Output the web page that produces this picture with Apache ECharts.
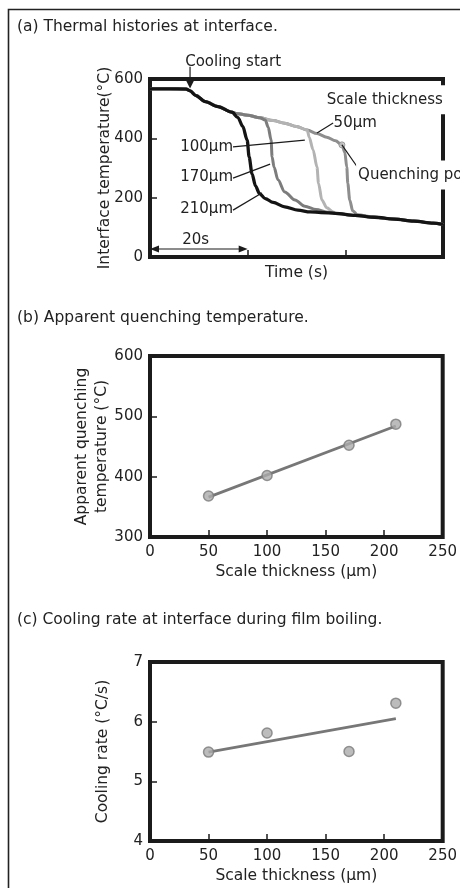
<!DOCTYPE html>
<html>
<head>
<meta charset="utf-8">
<script src="https://cdn.jsdelivr.net/npm/echarts@6/dist/echarts.min.js"></script>
<style>
  html, body { margin: 0; padding: 0; background: #fff; }
  #chart { width: 460px; height: 888px; }
</style>
</head>
<body>
<div id="chart"></div>
<script>
// ---------- (a) interface temperature histories, [time s, temperature °C] ----------
const holdAndOnset = [[0, 567], [4, 567], [7.4, 566], [8.2, 560], [9.4, 544], [11.3, 524], [13.9, 507], [16.8, 488]];
const filmBoilingPath = [[17.6, 484], [20, 478], [22.5, 469], [25.2, 460], [27.6, 451], [30, 440], [32.2, 428], [34.2, 416], [36.2, 404], [38, 392], [39.3, 378]];
const quench210 = [[18, 470], [19, 440], [19.9, 394], [20.3, 337], [20.9, 280], [21.6, 240], [22.4, 214], [23.6, 197], [25.2, 184], [27.6, 169], [30.3, 158], [32.8, 152], [35, 150]];
const quench170 = [[23.6, 462], [24.2, 438], [24.8, 394], [25.0, 337], [25.4, 303], [26.2, 260], [27.6, 219], [29.7, 192], [31.7, 171], [34, 160], [36.5, 151]];
const quench100 = [[32.6, 404], [33.4, 361], [34.2, 303], [34.5, 249], [35.2, 192], [36.2, 166], [37.5, 152]];
const quench50 = [[39.9, 352], [40.3, 303], [40.5, 249], [40.9, 192], [41.5, 156], [42.5, 142]];
const slowCoolingTail = [[38, 147], [42, 140], [46, 134], [50, 128], [54, 121], [58, 114], [60, 110]];
const quenchingPoint50 = [[39.3, 378]];
const timeTicks = [0, 20, 40, 60];

// ---------- (b) and (c) ----------
const scaleThickness = [50, 100, 170, 210];
const quenchTemperature = [368, 402, 452, 487];
const quenchTempFit = [[50, 366], [210, 484]];
const coolingRate = [5.49, 5.81, 5.50, 6.31];
const coolingRateFit = [[50, 5.49], [210, 6.05]];

const FONT = 'DejaVu Sans';
const INK = '#1b1b1b';

// film-boiling path up to the departure time, then the quench drop, then the common tail
function history(departT, drop) {
  const head = holdAndOnset.concat(filmBoilingPath.filter(p => p[0] <= departT));
  const last = drop[drop.length - 1][0];
  return head.concat(drop, slowCoolingTail.filter(p => p[0] > last));
}
const curve50 = history(39.3, quench50);
const curve100 = history(32.2, quench100);
const curve170 = history(22.5, quench170);
const curve210 = holdAndOnset.concat(quench210, slowCoolingTail);

const tickStyle = { inside: true, length: 7, lineStyle: { color: INK, width: 1.5 } };
const labelStyle = { color: '#222', fontFamily: FONT, fontSize: 15 };
const nameStyle = { color: '#222', fontFamily: FONT, fontSize: 15.5 };
const gridBase = { show: true, borderColor: INK, borderWidth: 4, backgroundColor: '#fff', left: 150, width: 293 };

function pairs(xs, ys) { return xs.map((x, i) => [x, ys[i]]); }

const chart = echarts.init(document.getElementById('chart'), null, { renderer: 'canvas' });

chart.setOption({
  animation: false,
  backgroundColor: '#fff',
  grid: [
    Object.assign({}, gridBase, { top: 79, height: 178 }),
    Object.assign({}, gridBase, { top: 356, height: 181 }),
    Object.assign({}, gridBase, { top: 662, height: 179 })
  ],
  xAxis: [
    {
      gridIndex: 0, type: 'value', min: timeTicks[0], max: timeTicks[timeTicks.length - 1], interval: 20,
      axisLine: { show: false }, axisTick: tickStyle, axisLabel: { show: false }, splitLine: { show: false },
      name: 'Time (s)', nameLocation: 'middle', nameGap: 8, nameMoveOverlap: false,
      nameTextStyle: Object.assign({}, nameStyle, { verticalAlign: 'top' })
    },
    {
      gridIndex: 1, type: 'value', min: 0, max: 250, interval: 50,
      axisLine: { show: false }, axisTick: tickStyle, axisLabel: Object.assign({ margin: 8 }, labelStyle), splitLine: { show: false },
      name: 'Scale thickness (μm)', nameLocation: 'middle', nameGap: 27, nameMoveOverlap: false,
      nameTextStyle: Object.assign({}, nameStyle, { verticalAlign: 'top' })
    },
    {
      gridIndex: 2, type: 'value', min: 0, max: 250, interval: 50,
      axisLine: { show: false }, axisTick: tickStyle, axisLabel: Object.assign({ margin: 8 }, labelStyle), splitLine: { show: false },
      name: 'Scale thickness (μm)', nameLocation: 'middle', nameGap: 27, nameMoveOverlap: false,
      nameTextStyle: Object.assign({}, nameStyle, { verticalAlign: 'top' })
    }
  ],
  yAxis: [
    {
      gridIndex: 0, type: 'value', min: 0, max: 600, interval: 200,
      axisLine: { show: false }, axisTick: tickStyle, axisLabel: Object.assign({ margin: 7 }, labelStyle), splitLine: { show: false },
      name: 'Interface temperature(°C)', nameLocation: 'middle', nameGap: 37, nameMoveOverlap: false, nameTextStyle: nameStyle
    },
    {
      gridIndex: 1, type: 'value', min: 300, max: 600, interval: 100,
      axisLine: { show: false }, axisTick: tickStyle, axisLabel: Object.assign({ margin: 7 }, labelStyle), splitLine: { show: false },
      name: 'Apparent quenching\ntemperature (°C)', nameLocation: 'middle', nameGap: 38, nameMoveOverlap: false,
      nameTextStyle: Object.assign({}, nameStyle, { lineHeight: 20 })
    },
    {
      gridIndex: 2, type: 'value', min: 4, max: 7, interval: 1,
      axisLine: { show: false }, axisTick: tickStyle, axisLabel: Object.assign({ margin: 7 }, labelStyle), splitLine: { show: false },
      name: 'Cooling rate (°C/s)', nameLocation: 'middle', nameGap: 39, nameMoveOverlap: false, nameTextStyle: nameStyle
    }
  ],
  series: [
    { name: '50μm', type: 'line', xAxisIndex: 0, yAxisIndex: 0, data: curve50, symbol: 'none', smooth: 0.3, smoothMonotone: 'x', lineStyle: { color: '#8e8e8e', width: 3 }, z: 2 },
    { name: '100μm', type: 'line', xAxisIndex: 0, yAxisIndex: 0, data: curve100, symbol: 'none', smooth: 0.3, smoothMonotone: 'x', lineStyle: { color: '#b3b3b3', width: 3 }, z: 3 },
    { name: '170μm', type: 'line', xAxisIndex: 0, yAxisIndex: 0, data: curve170, symbol: 'none', smooth: 0.3, smoothMonotone: 'x', lineStyle: { color: '#7c7c7c', width: 3 }, z: 4 },
    { name: '210μm', type: 'line', xAxisIndex: 0, yAxisIndex: 0, data: curve210, symbol: 'none', smooth: 0.3, smoothMonotone: 'x', lineStyle: { color: '#141414', width: 3.3 }, z: 5 },
    { name: 'Quenching point', type: 'scatter', xAxisIndex: 0, yAxisIndex: 0, data: quenchingPoint50, symbol: 'circle', symbolSize: 6,
      itemStyle: { color: '#c4c4c4', borderColor: '#8a8a8a', borderWidth: 1 }, z: 6 },

    { type: 'line', xAxisIndex: 1, yAxisIndex: 1, data: quenchTempFit, symbol: 'none', lineStyle: { color: '#777', width: 2.8 }, z: 2 },
    { type: 'scatter', xAxisIndex: 1, yAxisIndex: 1, data: pairs(scaleThickness, quenchTemperature), symbolSize: 10,
      itemStyle: { color: '#ababab', borderColor: '#7a7a7a', borderWidth: 1.5 }, z: 3 },

    { type: 'line', xAxisIndex: 2, yAxisIndex: 2, data: coolingRateFit, symbol: 'none', lineStyle: { color: '#777', width: 2.8 }, z: 2 },
    { type: 'scatter', xAxisIndex: 2, yAxisIndex: 2, data: pairs(scaleThickness, coolingRate), symbolSize: 10,
      itemStyle: { color: '#ababab', borderColor: '#7a7a7a', borderWidth: 1.5 }, z: 3 }
  ]
});

// ---------- annotations of panel (a), placed in data coordinates ----------
const P = (t, T) => chart.convertToPixel({ gridIndex: 0 }, [t, T]);
const txtFont = '15px "' + FONT + '"';
const titleFont = '15.5px "' + FONT + '"';

function label(text, at, align, extra) {
  return {
    type: 'text', z: 20,
    style: Object.assign({ text: text, x: at[0], y: at[1], font: txtFont, fill: '#222', align: align, verticalAlign: 'middle' }, extra || {})
  };
}
function leader(a, b) {
  return { type: 'line', z: 19, shape: { x1: a[0], y1: a[1], x2: b[0], y2: b[1] }, style: { stroke: INK, lineWidth: 1.2 } };
}
function arrowHead(tip, dir, len, half) {
  // dir: unit vector pointing to the tip
  const bx = tip[0] - dir[0] * len, by = tip[1] - dir[1] * len;
  const nx = -dir[1], ny = dir[0];
  return { type: 'polygon', z: 21, shape: { points: [tip, [bx + nx * half, by + ny * half], [bx - nx * half, by - ny * half]] }, style: { fill: INK } };
}

const coolTop = P(8.2, 641), coolTip = P(8.2, 568);
const spanL = P(0, 27), spanR = P(20, 27);

const graphics = [
  // figure frame
  { type: 'polyline', z: 30, shape: { points: [[8.5, 888], [8.5, 9.5], [460, 9.5]] }, style: { stroke: '#222', lineWidth: 1.6, fill: null } },
  // panel titles
  label('(a) Thermal histories at interface.', [17, 27], 'left', { font: titleFont }),
  label('(b) Apparent quenching temperature.', [17, 318], 'left', { font: titleFont }),
  label('(c) Cooling rate at interface during film boiling.', [17, 620], 'left', { font: titleFont }),

  // cooling start arrow
  label('Cooling start', P(7.2, 657), 'left'),
  leader(coolTop, [coolTip[0], coolTip[1] - 6]),
  arrowHead(coolTip, [0, 1], 8, 4),

  // 20 s span arrow
  leader([spanL[0] + 4, spanL[1]], [spanR[0] - 4, spanR[1]]),
  arrowHead(spanL, [-1, 0], 9, 3.5),
  arrowHead(spanR, [1, 0], 9, 3.5),
  label('20s', P(6.6, 57), 'left'),

  // thickness labels with leaders
  label('Scale thickness', P(35.8, 530), 'left', { backgroundColor: '#fff', padding: [8, 3, 6, 2] }),
  label('50μm', P(37.6, 452), 'left'),
  leader(P(37.5, 452), P(34.2, 418)),
  label('100μm', P(17, 371), 'right'),
  leader(P(17, 371), P(31.7, 394)),
  label('170μm', P(17, 270), 'right'),
  leader(P(17, 266), P(24.6, 313)),
  label('210μm', P(17, 162), 'right'),
  leader(P(17, 158), P(22.9, 216)),

  // quenching point callout
  leader(P(39.3, 378), P(42.6, 300)),
  label('Quenching point', P(42.2, 276), 'left', { backgroundColor: '#fff', padding: [8, 2, 6, 2] })
];

chart.setOption({ graphic: graphics });
</script>
</body>
</html>
